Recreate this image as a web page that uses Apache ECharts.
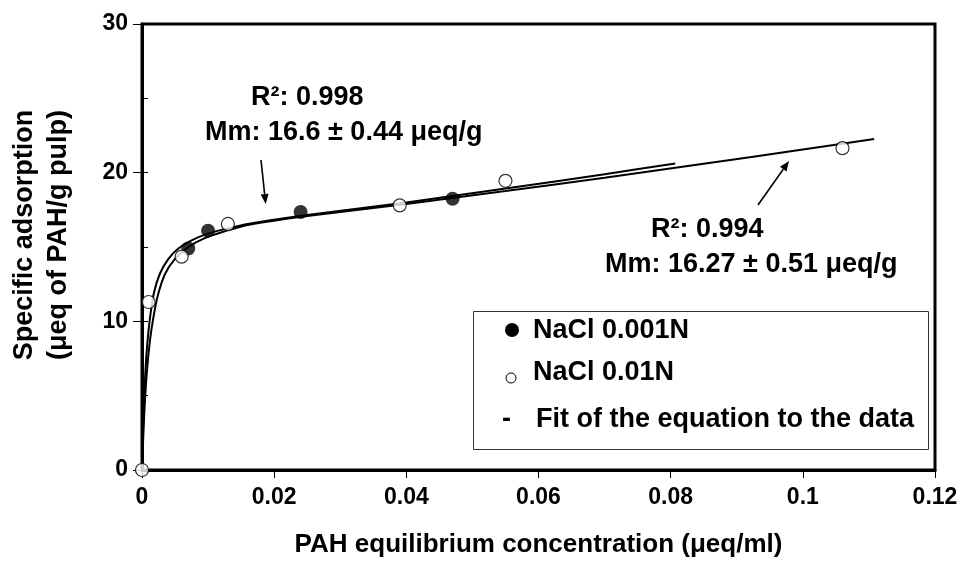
<!DOCTYPE html>
<html>
<head>
<meta charset="utf-8">
<script src="https://cdn.jsdelivr.net/npm/echarts@6/dist/echarts.min.js"></script>
<style>
html,body{margin:0;padding:0;background:#fff;}
#chart{width:964px;height:568px;}
</style>
</head>
<body>
<div id="chart"></div>
<script>
// ---- data ----
const filledX = [0.007, 0.010, 0.024, 0.047];
const filledY = [14.9, 16.1, 17.35, 18.25];
const openX = [0, 0.001, 0.006, 0.013, 0.039, 0.055, 0.106];
const openY = [0, 11.3, 14.35, 16.55, 17.8, 19.45, 21.65];
const fit1X = [0, 0.0002, 0.0005, 0.0008, 0.0012, 0.0018, 0.0027, 0.004, 0.0055, 0.0075, 0.01, 0.013, 0.016, 0.025, 0.04, 0.055, 0.07, 0.0807];
const fit1Y = [0, 3.4, 6.5, 8.5, 10.2, 11.9, 13.2, 14.2, 14.9, 15.45, 15.9, 16.25, 16.55, 17.15, 18.0, 18.93, 19.9, 20.62];
const fit2X = [0, 0.0003, 0.0007, 0.0012, 0.0017, 0.0024, 0.0035, 0.005, 0.007, 0.0095, 0.0125, 0.016, 0.025, 0.04, 0.055, 0.07, 0.085, 0.1, 0.1108];
const fit2Y = [0, 3.4, 6.4, 8.7, 10.2, 11.75, 13.2, 14.2, 15.0, 15.6, 16.05, 16.48, 17.08, 17.9, 18.76, 19.66, 20.6, 21.56, 22.27];
const legendNames = ['NaCl 0.001N', 'NaCl 0.01N', 'Fit of the equation to the data'];
const xTitle = 'PAH equilibrium concentration (\u03BCeq/ml)';
const yTitle = 'Specific adsorption\n(\u03BCeq of PAH/g pulp)';
const note1 = ['R\u00B2: 0.998', 'Mm: 16.6 \u00B1 0.44 \u03BCeq/g'];
const note2 = ['R\u00B2: 0.994', 'Mm: 16.27 \u00B1 0.51 \u03BCeq/g'];

const zip = (xs, ys) => xs.map((x, i) => [x, ys[i]]);
const FONT = '"Liberation Sans", Arial, sans-serif';

function arrow(x1, y1, x2, y2) {
  const dx = x2 - x1, dy = y2 - y1, L = Math.hypot(dx, dy);
  const ux = dx / L, uy = dy / L, hl = 10, hw = 4;
  const bx = x2 - ux * hl, by = y2 - uy * hl;
  return [
    {type: 'line', shape: {x1: x1, y1: y1, x2: bx, y2: by}, style: {stroke: '#000', lineWidth: 1.6}},
    {type: 'polygon', shape: {points: [[x2, y2], [bx - uy * hw, by + ux * hw], [bx + uy * hw, by - ux * hw]]}, style: {fill: '#000'}}
  ];
}
function txt(x, y, s, size) {
  return {type: 'text', x: x, y: y, style: {text: s, font: 'bold ' + size + 'px ' + FONT, fill: '#000', textVerticalAlign: 'middle', verticalAlign: 'middle'}};
}

const chart = echarts.init(document.getElementById('chart'), null, {renderer: 'canvas'});
const axisFont = {fontFamily: FONT, fontWeight: 'bold', fontSize: 23, color: '#000'};

const option = {
  animation: false,
  backgroundColor: '#fff',
  grid: {left: 142, top: 24, right: 29, bottom: 98, show: true, borderColor: '#000', borderWidth: 3, containLabel: false},
  xAxis: {
    type: 'value', min: 0, max: 0.12, interval: 0.02,
    axisLine: {show: true, lineStyle: {color: '#000', width: 3}},
    axisTick: {show: true, length: 8, lineStyle: {color: '#000', width: 1}},
    splitLine: {show: false},
    axisLabel: Object.assign({margin: 16, formatter: v => String(+v.toFixed(2))}, axisFont),
    name: xTitle, nameLocation: 'middle', nameGap: 62,
    nameTextStyle: {fontFamily: FONT, fontWeight: 'bold', fontSize: 26, color: '#000'}
  },
  yAxis: [{
    type: 'value', min: 0, max: 30, interval: 10,
    axisLine: {show: true, lineStyle: {color: '#000', width: 3}},
    axisTick: {show: true, length: 9, lineStyle: {color: '#000', width: 1}},
    splitLine: {show: false},
    axisLabel: Object.assign({margin: 14}, axisFont),
    name: yTitle, nameLocation: 'middle', nameGap: 66,
    nameTextStyle: {fontFamily: FONT, fontWeight: 'bold', fontSize: 27, color: '#000', lineHeight: 34, padding: [0, 0, 0, 24]}
  }, {
    type: 'value', min: 0, max: 30, interval: 5, position: 'left',
    axisLine: {show: false},
    axisTick: {show: true, inside: true, length: 6, lineStyle: {color: '#000', width: 1}},
    axisLabel: {show: false}, splitLine: {show: false}
  }],
  series: [
    {name: legendNames[2], type: 'line', data: zip(fit1X, fit1Y), showSymbol: false, smooth: 0.3,
      lineStyle: {color: '#000', width: 2}, z: 2},
    {name: legendNames[2], type: 'line', data: zip(fit2X, fit2Y), showSymbol: false, smooth: 0.3,
      lineStyle: {color: '#000', width: 2}, z: 2},
    {name: legendNames[0], type: 'scatter', data: zip(filledX, filledY), symbol: 'circle', symbolSize: 14,
      itemStyle: {color: '#000'}, z: 5, clip: false},
    {name: legendNames[1], type: 'scatter', data: zip(openX, openY), symbol: 'circle', symbolSize: 13,
      itemStyle: {color: '#fff', borderColor: '#000', borderWidth: 1.2}, z: 6, clip: false}
  ],
  graphic: [
    {type: 'rect', shape: {x: 473.5, y: 311.5, width: 455, height: 138}, style: {fill: '#fff', stroke: '#333', lineWidth: 1}, z: 100},
    {type: 'circle', shape: {cx: 512, cy: 330, r: 7}, style: {fill: '#000'}, z: 101},
    Object.assign(txt(533, 331, legendNames[0], 27), {z: 101}),
    {type: 'circle', shape: {cx: 511, cy: 378, r: 5}, style: {fill: '#fff', stroke: '#000', lineWidth: 1}, z: 101},
    Object.assign(txt(533, 373, legendNames[1], 27), {z: 101}),
    Object.assign(txt(502, 420, '-', 27), {z: 101}),
    Object.assign(txt(536, 420, legendNames[2], 27), {z: 101}),
    txt(251, 98, note1[0], 27),
    txt(205, 133, note1[1], 27),
    txt(651, 230, note2[0], 27),
    txt(605, 265, note2[1], 27)
  ].concat(arrow(261, 160, 265.7, 204)).concat(arrow(758, 205, 789, 161))
};
chart.setOption(option);
</script>
</body>
</html>
